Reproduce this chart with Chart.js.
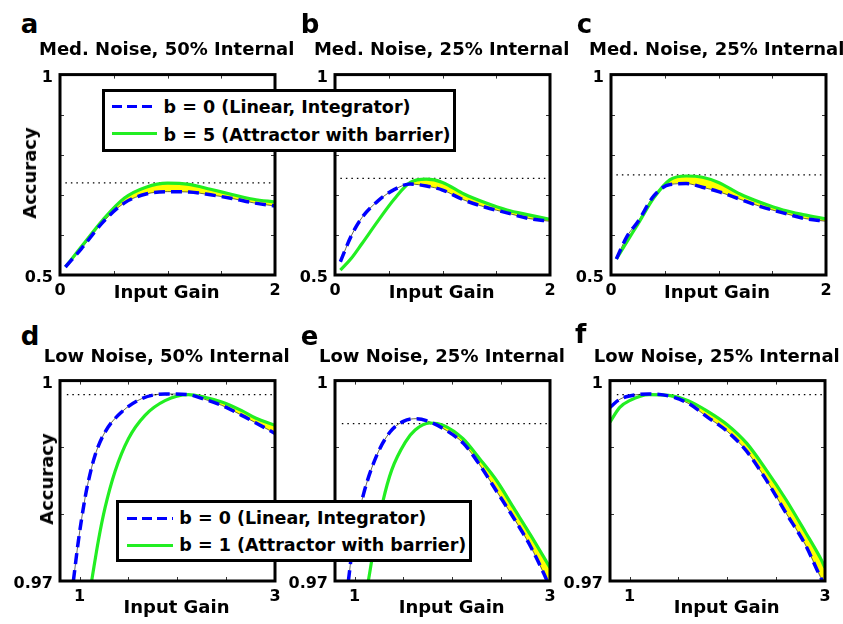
<!DOCTYPE html>
<html>
<head>
<meta charset="utf-8">
<script src="https://cdn.jsdelivr.net/npm/chart.js@4.4.1/dist/chart.umd.min.js"></script>
<style>
  body { margin: 0; width: 843px; height: 624px; position: relative; overflow: hidden; background: #fff;
         font-family: 'DejaVu Sans', sans-serif; font-weight: bold; color: #000; }
  canvas { position: absolute; }
  .t { position: absolute; white-space: nowrap; line-height: 1; font-size: 18px; }
  .center { transform: translate(-50%, -50%); }
  .left { transform: translate(0, -50%); }
  .rot { transform: translate(-50%, -50%) rotate(-90deg); }
  .letter { font-size: 26px; }
  .legend { position: absolute; background: #fff; border: 3px solid #000; box-sizing: border-box; z-index: 5; }
  .legend .t { font-size: 17.5px; }
  .sample { position: absolute; }
</style>
</head>
<body>
<script>
// ---- data ----
// a: medium noise, 50% internal
const gainLinA = [0.05, 0.2, 0.4, 0.6, 0.8, 1.0, 1.2, 1.4, 1.6, 1.8, 2.0];
const linearA = [0.52, 0.566, 0.632, 0.680, 0.702, 0.708, 0.707, 0.700, 0.691, 0.680, 0.672];
const gainAttA = [0.05, 0.2, 0.4, 0.6, 0.8, 1.0, 1.2, 1.4, 1.6, 1.8, 2.0];
const attractorA = [0.52, 0.571, 0.638, 0.692, 0.719, 0.729, 0.726, 0.714, 0.701, 0.689, 0.682];

// b: medium noise, 25% internal
const gainLinB = [0.05, 0.15, 0.25, 0.4, 0.55, 0.7, 0.85, 1.0, 1.2, 1.4, 1.6, 1.8, 2.0];
const linearB = [0.533, 0.597, 0.643, 0.685, 0.713, 0.727, 0.722, 0.712, 0.687, 0.669, 0.655, 0.641, 0.634];
const gainAttB = [0.05, 0.15, 0.25, 0.4, 0.55, 0.7, 0.85, 1.0, 1.2, 1.4, 1.6, 1.8, 2.0];
const attractorB = [0.512, 0.541, 0.578, 0.635, 0.689, 0.731, 0.739, 0.731, 0.702, 0.680, 0.662, 0.650, 0.639];

// c: medium noise, 25% internal
const gainLinC = [0.05, 0.15, 0.25, 0.4, 0.55, 0.7, 0.85, 1.0, 1.2, 1.4, 1.6, 1.8, 2.0];
const linearC = [0.540, 0.597, 0.633, 0.698, 0.726, 0.728, 0.719, 0.708, 0.689, 0.670, 0.655, 0.641, 0.634];
const gainAttC = [0.05, 0.15, 0.25, 0.4, 0.55, 0.7, 0.85, 1.0, 1.2, 1.4, 1.6, 1.8, 2.0];
const attractorC = [0.540, 0.584, 0.627, 0.693, 0.738, 0.747, 0.744, 0.731, 0.702, 0.680, 0.662, 0.650, 0.640];

// d: low noise, 50% internal
const gainLinD = [0.937, 0.988, 1.056, 1.09, 1.158, 1.261, 1.431, 1.636, 1.875, 2.114, 2.28, 2.455, 2.66, 2.80, 3.0];
const linearD = [0.970, 0.976, 0.9824, 0.9849, 0.9888, 0.9923, 0.9953, 0.9973, 0.9980, 0.9979, 0.9972, 0.9963, 0.9948, 0.9937, 0.9921];
const gainAttD = [1.124, 1.192, 1.26, 1.363, 1.50, 1.67, 1.875, 2.114, 2.28, 2.455, 2.66, 2.80, 3.0];
const attractorD = [0.970, 0.9760, 0.9809, 0.9864, 0.9913, 0.9948, 0.9970, 0.9979, 0.9975, 0.9968, 0.9955, 0.9944, 0.9933];

// e: low noise, 25% internal
const gainLinE = [0.937, 0.988, 1.09, 1.227, 1.363, 1.50, 1.636, 1.773, 1.943, 2.114, 2.28, 2.455, 2.63, 2.80, 2.94, 3.0];
const linearE = [0.970, 0.976, 0.9829, 0.9888, 0.9923, 0.9939, 0.9943, 0.9938, 0.9925, 0.9906, 0.9874, 0.9834, 0.9794, 0.9752, 0.9710, 0.9690];
const gainAttE = [1.141, 1.21, 1.29, 1.38, 1.52, 1.62, 1.77, 1.91, 2.11, 2.28, 2.46, 2.63, 2.80, 3.0];
const attractorE = [0.970, 0.976, 0.9819, 0.9866, 0.9908, 0.9926, 0.99365, 0.9933, 0.9913, 0.9883, 0.9849, 0.9809, 0.9769, 0.9720];

// f: low noise, 25% internal
const gainLinF = [0.8, 0.9, 1.0, 1.2, 1.4, 1.6, 1.8, 2.0, 2.2, 2.4, 2.6, 2.8, 2.95, 3.0];
const linearF = [0.9960, 0.9972, 0.9977, 0.9980, 0.9977, 0.9966, 0.9945, 0.9924, 0.9894, 0.9851, 0.9802, 0.9754, 0.9707, 0.9693];
const gainAttF = [0.8, 0.9, 1.0, 1.2, 1.4, 1.6, 1.8, 2.0, 2.2, 2.4, 2.6, 2.8, 2.95, 3.0];
const attractorF = [0.9938, 0.9960, 0.9970, 0.9979, 0.9978, 0.9970, 0.9954, 0.9934, 0.9906, 0.9866, 0.9822, 0.9773, 0.9735, 0.9720];

// dotted line = best accuracy of each panel
const optimum = [0.730, 0.741, 0.750, 0.9979, 0.99355, 0.9979];

const letters = ['a', 'b', 'c', 'd', 'e', 'f'];
const titles = ['Med. Noise, 50% Internal', 'Med. Noise, 25% Internal', 'Med. Noise, 25% Internal',
                'Low Noise, 50% Internal', 'Low Noise, 25% Internal', 'Low Noise, 25% Internal'];
const legendTop = ['b = 0 (Linear, Integrator)', 'b = 5 (Attractor with barrier)'];
const legendBottom = ['b = 0 (Linear, Integrator)', 'b = 1 (Attractor with barrier)'];

const medGainTicks = [0, 2], medGainMinor = [0.5, 1, 1.5];
const medAccTicks = [0.5, 1], medAccMinor = [0.6, 0.7, 0.8, 0.9];
const lowGainTicks = [1, 3], lowGainMinor = [1, 1.5, 2, 2.5];
const lowAccTicks = [0.97, 1], lowAccMinor = [0.98, 0.99];

const BLUE = '#0000ff';
const GREEN = '#22ee22';
const YELLOW = '#ffff00';
const TICK_FONT = { family: 'DejaVu Sans', size: 16, weight: 'bold' };

// plot box of each panel, and canvas margins round it
const W = 215, H = 202;
const PL = 55, PT = 15, PR = 15, PB = 40;

// frame + small inside ticks, like the matlab box
const framePlugin = {
  id: 'frame',
  afterDraw(chart, args, opts) {
    const { ctx, chartArea: a } = chart;
    const x = chart.scales.x, y = chart.scales.y;
    ctx.save();
    ctx.strokeStyle = '#333';
    ctx.lineWidth = 1;
    ctx.beginPath();
    opts.xMinor.forEach(function (v) {
      const px = Math.round(x.getPixelForValue(v)) + 0.5;
      ctx.moveTo(px, a.bottom); ctx.lineTo(px, a.bottom - 4);
      ctx.moveTo(px, a.top); ctx.lineTo(px, a.top + 4);
    });
    opts.yMinor.forEach(function (v) {
      const py = Math.round(y.getPixelForValue(v)) + 0.5;
      ctx.moveTo(a.left, py); ctx.lineTo(a.left + 4, py);
      ctx.moveTo(a.right, py); ctx.lineTo(a.right - 4, py);
    });
    ctx.stroke();
    ctx.strokeStyle = '#000';
    ctx.lineWidth = 3;
    ctx.strokeRect(a.left, a.top, a.width, a.height);
    ctx.restore();
  }
};

function pts(xs, ys) {
  return xs.map(function (v, i) { return { x: v, y: ys[i] }; });
}

function addText(parent, txt, x, y, cls) {
  const el = document.createElement('div');
  el.className = 't ' + cls;
  el.textContent = txt;
  el.style.left = x + 'px';
  el.style.top = y + 'px';
  parent.appendChild(el);
  return el;
}

function makePanel(left, top, gainLin, linear, gainAtt, attractor, opt, med) {
  const cv = document.createElement('canvas');
  cv.width = PL + W + PR;
  cv.height = PT + H + PB;
  cv.style.left = (left - PL) + 'px';
  cv.style.top = (top - PT) + 'px';
  document.body.appendChild(cv);

  const xMin = med ? 0 : 0.8, xMax = med ? 2 : 3;
  const dotStart = med ? 0.05 : 0.87;

  new Chart(cv, {
    type: 'line',
    data: {
      datasets: [{
        data: pts(gainAtt, attractor),
        borderColor: GREEN,
        borderWidth: 3.2,
        fill: { target: 2, above: YELLOW, below: 'rgba(0,0,0,0)' },
        order: 1
      }, {
        data: pts(gainLin, linear),
        borderColor: BLUE,
        borderWidth: 3.5,
        borderDash: [11, 6],
        order: 0
      }, {
        data: pts(gainLin, linear), // thin black edge of the yellow patch
        borderColor: '#000',
        borderWidth: 0.6,
        order: 2
      }, {
        data: [{ x: dotStart, y: opt }, { x: xMax, y: opt }],
        borderColor: '#000',
        borderWidth: 1.2,
        borderDash: [1.5, 4],
        order: 3
      }]
    },
    options: {
      responsive: false,
      animation: false,
      events: [],
      layout: { padding: { left: 0, top: PT, right: PR, bottom: 0 } },
      elements: {
        point: { radius: 0 },
        line: { cubicInterpolationMode: 'monotone', fill: false }
      },
      scales: {
        x: {
          type: 'linear', min: xMin, max: xMax,
          grid: { display: false, drawTicks: false },
          border: { display: false },
          afterBuildTicks: function (s) { s.ticks = (med ? medGainTicks : lowGainTicks).map(function (v) { return { value: v }; }); },
          afterFit: function (s) { s.height = PB; },
          ticks: { font: TICK_FONT, color: '#000', padding: 6, maxRotation: 0, autoSkip: false,
                   callback: function (v) { return String(v); } }
        },
        y: {
          type: 'linear', min: med ? 0.5 : 0.97, max: 1,
          grid: { display: false, drawTicks: false },
          border: { display: false },
          afterBuildTicks: function (s) { s.ticks = (med ? medAccTicks : lowAccTicks).map(function (v) { return { value: v }; }); },
          afterFit: function (s) { s.width = PL; },
          ticks: { font: TICK_FONT, color: '#000', padding: 7, labelOffset: 3, autoSkip: false,
                   callback: function (v) { return String(v); } }
        }
      },
      plugins: {
        legend: { display: false },
        tooltip: { enabled: false },
        filler: { drawTime: 'beforeDatasetsDraw' },
        frame: { xMinor: med ? medGainMinor : lowGainMinor, yMinor: med ? medAccMinor : lowAccMinor }
      }
    },
    plugins: [framePlugin]
  });
}

makePanel(60, 73, gainLinA, linearA, gainAttA, attractorA, optimum[0], true);
makePanel(335, 73, gainLinB, linearB, gainAttB, attractorB, optimum[1], true);
makePanel(611, 73, gainLinC, linearC, gainAttC, attractorC, optimum[2], true);
makePanel(60, 379, gainLinD, linearD, gainAttD, attractorD, optimum[3], false);
makePanel(335, 379, gainLinE, linearE, gainAttE, attractorE, optimum[4], false);
makePanel(610, 379, gainLinF, linearF, gainAttF, attractorF, optimum[5], false);

// panel letters and titles
const letterPos = [[20.7, 24], [300.7, 24], [576.7, 24], [20.7, 336], [300.7, 336], [575, 334.3]];
const titlePos = [[166.7, 49], [441.6, 49], [716.7, 49], [166.7, 355.5], [442, 355.5], [716.7, 355.5]];
letters.forEach(function (l, i) {
  addText(document.body, l, letterPos[i][0], letterPos[i][1], 'left letter');
  addText(document.body, titles[i], titlePos[i][0], titlePos[i][1], 'center');
});

// axis titles
const gainLabelPos = [[166.7, 291.5], [441.7, 291.5], [717, 291.5], [176.5, 606.5], [451.7, 606.5], [726.7, 606.5]];
gainLabelPos.forEach(function (p) { addText(document.body, 'Input Gain', p[0], p[1], 'center'); });
addText(document.body, 'Accuracy', 30.3, 173.3, 'rot');
addText(document.body, 'Accuracy', 46.9, 479, 'rot');

// legends
function makeLegend(left, top, width, height, labels, rows) {
  const box = document.createElement('div');
  box.className = 'legend';
  box.style.left = left + 'px';
  box.style.top = top + 'px';
  box.style.width = width + 'px';
  box.style.height = height + 'px';
  document.body.appendChild(box);

  const dash = document.createElement('div');
  dash.className = 'sample';
  dash.style.left = rows.lineX + 'px';
  dash.style.width = rows.lineW + 'px';
  dash.style.top = (rows.y1 - 1.75) + 'px';
  dash.style.height = '3.5px';
  dash.style.background = 'repeating-linear-gradient(to right, ' + BLUE + ' 0 10px, transparent 10px 15px)';
  box.appendChild(dash);

  const solid = document.createElement('div');
  solid.className = 'sample';
  solid.style.left = rows.lineX + 'px';
  solid.style.width = rows.lineW + 'px';
  solid.style.top = (rows.y2 - 1.5) + 'px';
  solid.style.height = '3px';
  solid.style.background = GREEN;
  box.appendChild(solid);

  addText(box, labels[0], rows.textX, rows.t1, 'left');
  addText(box, labels[1], rows.textX, rows.t2, 'left');
}

makeLegend(102, 89, 354, 63, legendTop, { lineX: 7, lineW: 45, y1: 14.4, y2: 41, textX: 58.6, t1: 16.4, t2: 44 });
makeLegend(116, 500, 356, 62, legendBottom, { lineX: 7.7, lineW: 46.6, y1: 15.3, y2: 42, textX: 60.3, t1: 15.8, t2: 43 });
</script>
</body>
</html>
